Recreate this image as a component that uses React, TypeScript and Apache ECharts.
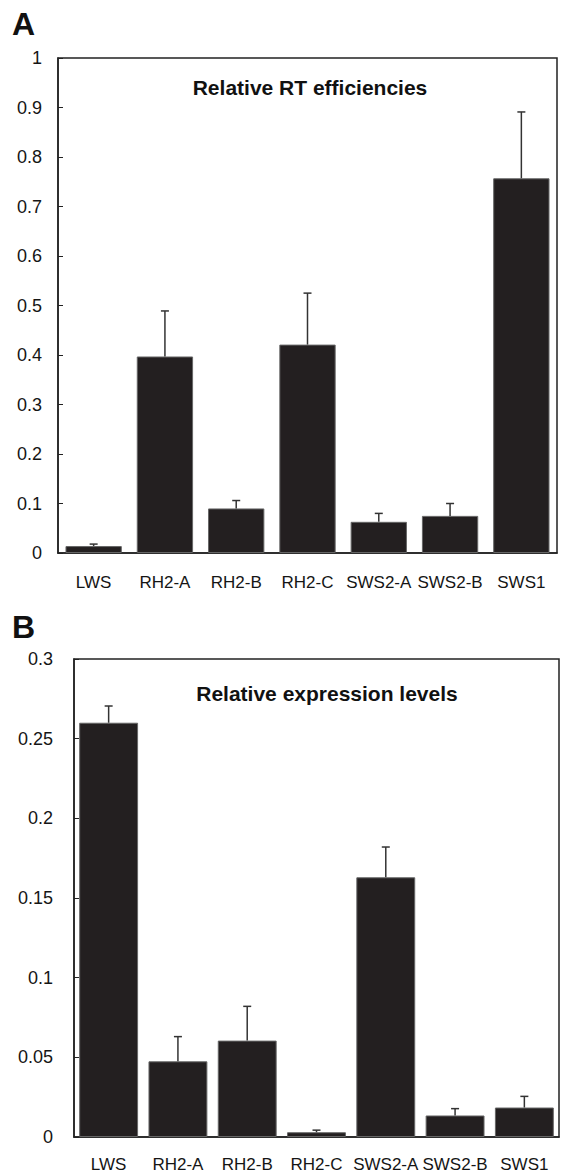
import React, { useEffect, useRef } from "react";
import * as echarts from "echarts";

const categories = ["LWS", "RH2-A", "RH2-B", "RH2-C", "SWS2-A", "SWS2-B", "SWS1"];

// Panel A: relative RT efficiencies
const rtValues = [0.014, 0.397, 0.09, 0.421, 0.063, 0.075, 0.757];
const rtErrTop = [0.018, 0.489, 0.106, 0.525, 0.08, 0.1, 0.891];
const rtTicks = [0, 0.1, 0.2, 0.3, 0.4, 0.5, 0.6, 0.7, 0.8, 0.9, 1];

// Panel B: relative expression levels
const exValues = [0.26, 0.0475, 0.0605, 0.003, 0.163, 0.0135, 0.0185];
const exErrTop = [0.2705, 0.063, 0.082, 0.0043, 0.182, 0.0178, 0.0255];
const exTicks = [0, 0.05, 0.1, 0.15, 0.2, 0.25, 0.3];

const titleA = "Relative RT efficiencies";
const titleB = "Relative expression levels";

const FONT = "'Liberation Sans', Arial, sans-serif";
const BAR = "#231f20";
const LINE = "#222";

function errRender(params: any, api: any) {
  const i = api.value(0);
  const base = api.coord([i, api.value(1)]);
  const top = api.coord([i, api.value(2)]);
  return {
    type: "group",
    children: [
      {
        type: "line",
        shape: { x1: top[0], y1: base[1], x2: top[0], y2: top[1] },
        style: { stroke: "#333", lineWidth: 1.5 },
      },
      {
        type: "line",
        shape: { x1: top[0] - 4, y1: top[1], x2: top[0] + 4, y2: top[1] },
        style: { stroke: "#333", lineWidth: 1.5 },
      },
    ],
  };
}

export default function App() {
  const ref = useRef<HTMLDivElement>(null);
  useEffect(() => {
    document.body.style.margin = "0";
    if (!ref.current) return;
    const chart = echarts.init(ref.current, undefined, { renderer: "svg" });
    const yLabelFmt = (v: number) => String(+v.toFixed(3));
    const xAxisBase = (gridIndex: number, margin: number) => ({
      type: "category" as const,
      gridIndex,
      data: categories,
      axisLine: { lineStyle: { color: LINE, width: 1.5 } },
      axisTick: { inside: true, length: 5, lineStyle: { color: LINE } },
      axisLabel: { color: "#151515", fontSize: 17, fontFamily: FONT, margin, interval: 0 },
    });
    const yAxisBase = (gridIndex: number, max: number, interval: number, margin: number) => ({
      type: "value" as const,
      gridIndex,
      min: 0,
      max,
      interval,
      axisLine: { show: true, lineStyle: { color: LINE, width: 1.5 } },
      axisTick: { show: true, inside: true, length: 5, lineStyle: { color: LINE } },
      splitLine: { show: false },
      axisLabel: { color: "#151515", fontSize: 18, fontFamily: FONT, margin, formatter: yLabelFmt },
    });
    chart.setOption({
      animation: false,
      backgroundColor: "#fff",
      grid: [
        { left: 58, top: 58, width: 499, height: 495, show: true, borderColor: LINE, borderWidth: 1.5 },
        { left: 74, top: 659, width: 485, height: 478, show: true, borderColor: LINE, borderWidth: 1.5 },
      ],
      xAxis: [xAxisBase(0, 21), xAxisBase(1, 19)],
      yAxis: [
        yAxisBase(0, rtTicks[rtTicks.length - 1], rtTicks[1] - rtTicks[0], 16),
        yAxisBase(1, exTicks[exTicks.length - 1], exTicks[1] - exTicks[0], 21),
      ],
      series: [
        {
          type: "bar",
          xAxisIndex: 0,
          yAxisIndex: 0,
          data: rtValues,
          barCategoryGap: "21%",
          itemStyle: { color: BAR, borderColor: "#666", borderWidth: 1 },
        },
        {
          type: "custom",
          xAxisIndex: 0,
          yAxisIndex: 0,
          z: 5,
          renderItem: errRender,
          data: rtValues.map((v, i) => [i, v, rtErrTop[i]]),
        },
        {
          type: "bar",
          xAxisIndex: 1,
          yAxisIndex: 1,
          data: exValues,
          barCategoryGap: "15%",
          itemStyle: { color: BAR, borderColor: "#666", borderWidth: 1 },
        },
        {
          type: "custom",
          xAxisIndex: 1,
          yAxisIndex: 1,
          z: 5,
          renderItem: errRender,
          data: exValues.map((v, i) => [i, v, exErrTop[i]]),
        },
      ],
      graphic: [
        {
          type: "text",
          x: 12,
          y: 24,
          style: { text: "A", font: `bold 32px ${FONT}`, fill: "#111", textVerticalAlign: "middle" },
        },
        {
          type: "text",
          x: 12,
          y: 627,
          style: { text: "B", font: `bold 32px ${FONT}`, fill: "#111", textVerticalAlign: "middle" },
        },
        {
          type: "text",
          x: 310,
          y: 87,
          style: {
            text: titleA,
            font: `bold 21px ${FONT}`,
            fill: "#111",
            textAlign: "center",
            textVerticalAlign: "middle",
          },
        },
        {
          type: "text",
          x: 327,
          y: 693,
          style: {
            text: titleB,
            font: `bold 21px ${FONT}`,
            fill: "#111",
            textAlign: "center",
            textVerticalAlign: "middle",
          },
        },
      ],
    });
    return () => chart.dispose();
  }, []);
  return <div ref={ref} style={{ width: 563, height: 1173 }} />;
}
